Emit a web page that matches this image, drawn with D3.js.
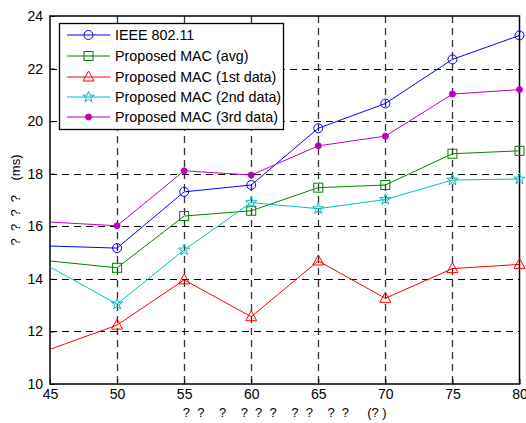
<!DOCTYPE html>
<html><head><meta charset="utf-8">
<script src="https://cdn.jsdelivr.net/npm/d3@7"></script>
<style>body{margin:0;background:#fff}svg{display:block}text{font-family:"Liberation Sans",Arial,sans-serif}</style>
</head><body>
<svg id="c" width="526" height="423"></svg>
<script>
const xValues = [45, 50, 55, 60, 65, 70, 75, 80];
const ieee = [15.25, 15.17, 17.31, 17.57, 19.73, 20.67, 22.35, 23.26];
const avg = [14.68, 14.42, 16.39, 16.59, 17.47, 17.57, 18.76, 18.87];
const first = [11.32, 12.24, 13.96, 12.56, 14.68, 13.26, 14.39, 14.55];
const second = [14.45, 13.04, 15.1, 16.9, 16.67, 17.02, 17.76, 17.8];
const third = [16.16, 16.02, 18.11, 17.95, 19.06, 19.43, 21.03, 21.2];
const seriesNames = ["IEEE 802.11", "Proposed MAC (avg)", "Proposed MAC (1st data)", "Proposed MAC (2nd data)", "Proposed MAC (3rd data)"];
const seriesColors = ["#0000ff", "#008000", "#ff0000", "#00bfbf", "#bf00bf"];
const seriesMarkers = ["circle", "square", "triangle", "star", "dot"];
const xTicks = [45, 50, 55, 60, 65, 70, 75, 80];
const yTicks = [10, 12, 14, 16, 18, 20, 22, 24];
const xLabel = "?\u00a0\u00a0?\u00a0\u00a0\u00a0\u00a0?\u00a0\u00a0\u00a0\u00a0?\u00a0\u00a0?\u00a0\u00a0?\u00a0\u00a0\u00a0\u00a0?\u00a0\u00a0?\u00a0\u00a0\u00a0\u00a0?\u00a0\u00a0?\u00a0\u00a0\u00a0\u00a0\u00a0(?\u00a0)";
const yLabel = "?\u00a0\u00a0?\u00a0\u00a0?\u00a0\u00a0?\u00a0\u00a0\u00a0\u00a0(ms)";

const seriesValues = [ieee, avg, first, second, third];
const svg = d3.select("#c");
const L = 50, R = 519.5, T = 16, B = 384;
const x = d3.scaleLinear().domain([45, 80]).range([L, R]);
const y = d3.scaleLinear().domain([10, 24]).range([B, T]);

svg.append("defs").append("clipPath").attr("id", "pc")
  .append("rect").attr("x", L).attr("y", T).attr("width", R - L).attr("height", B - T);

// grid
const g = svg.append("g");
g.selectAll(".vg").data(xTicks.slice(1, -1)).join("line")
  .attr("x1", d => Math.round(x(d)) + 0.5).attr("x2", d => Math.round(x(d)) + 0.5)
  .attr("y1", T).attr("y2", B).attr("stroke", "#333").attr("stroke-width", 1.3).attr("stroke-dasharray", "7,5");
g.selectAll(".hg").data(yTicks.slice(1, -1)).join("line")
  .attr("y1", d => Math.round(y(d)) + 0.5).attr("y2", d => Math.round(y(d)) + 0.5)
  .attr("x1", L).attr("x2", R).attr("stroke", "#000").attr("stroke-width", 1).attr("stroke-dasharray", "7,5");

// axes
const xAxis = svg.append("g").attr("transform", `translate(0,${B})`)
  .call(d3.axisBottom(x).tickValues(xTicks).tickSize(-5).tickPadding(8).tickFormat(d3.format("d")));
const yAxis = svg.append("g").attr("transform", `translate(${L},0)`)
  .call(d3.axisLeft(y).tickValues(yTicks).tickSize(-5).tickPadding(7).tickFormat(d3.format("d")));
[xAxis, yAxis].forEach(a => {
  a.select(".domain").remove();
  a.selectAll("text").attr("font-size", 14).attr("fill", "#000").attr("font-family", '"Liberation Sans",Arial,sans-serif');
  a.selectAll("line").attr("stroke", "#000");
});
xAxis.selectAll("text").attr("dy", "0.5em");
svg.append("rect").attr("x", L).attr("y", T).attr("width", R - L).attr("height", B - T)
  .attr("fill", "none").attr("stroke", "#000").attr("stroke-width", 1.5);

// lines
const line = d3.line().x((d, i) => x(xValues[i])).y(d => y(d));
const plot = svg.append("g").attr("clip-path", "url(#pc)");
seriesValues.forEach((vals, k) => {
  plot.append("path").attr("d", line(vals)).attr("fill", "none")
    .attr("stroke", seriesColors[k]).attr("stroke-width", 1);
});

function drawMarker(sel, type, color, cx, cy) {
  if (type === "circle") sel.append("circle").attr("cx", cx).attr("cy", cy).attr("r", 4.5).attr("fill", "none").attr("stroke", color);
  else if (type === "square") sel.append("rect").attr("x", cx - 4.5).attr("y", cy - 4.5).attr("width", 9).attr("height", 9).attr("fill", "none").attr("stroke", color);
  else if (type === "triangle") sel.append("path").attr("d", `M${cx},${cy - 6}L${cx + 5.5},${cy + 4}L${cx - 5.5},${cy + 4}Z`).attr("fill", "none").attr("stroke", color);
  else if (type === "star") sel.append("path").attr("d", d3.symbol(d3.symbolStar, 40)()).attr("transform", `translate(${cx},${cy})`).attr("fill", "none").attr("stroke", color);
  else if (type === "dot") sel.append("circle").attr("cx", cx).attr("cy", cy).attr("r", 3).attr("fill", color).attr("stroke", color);
}
const mk = svg.append("g");
seriesValues.forEach((vals, k) => {
  vals.forEach((v, i) => {
    if (xValues[i] > 45) drawMarker(mk, seriesMarkers[k], seriesColors[k], x(xValues[i]), y(v));
  });
});

// legend
const lg = svg.append("g");
lg.append("rect").attr("x", 59.5).attr("y", 23.5).attr("width", 224).attr("height", 106)
  .attr("fill", "#fff").attr("stroke", "#000").attr("stroke-width", 1.3);
const legY = [35, 56, 77, 97, 117];
seriesNames.forEach((n, k) => {
  lg.append("line").attr("x1", 67).attr("x2", 110).attr("y1", legY[k]).attr("y2", legY[k]).attr("stroke", seriesColors[k]);
  drawMarker(lg, seriesMarkers[k], seriesColors[k], 88.5, legY[k]);
  lg.append("text").attr("x", 115).attr("y", legY[k]).attr("dy", "0.36em").attr("font-size", 14.3).text(n);
});

// labels
svg.append("text").attr("x", (L + R) / 2).attr("y", 417).attr("text-anchor", "middle")
  .attr("font-size", 13).text(xLabel);
svg.append("text").attr("transform", `translate(20,${(T + B) / 2}) rotate(-90)`).attr("text-anchor", "middle")
  .attr("font-size", 13).text(yLabel);
</script>
</body></html>
